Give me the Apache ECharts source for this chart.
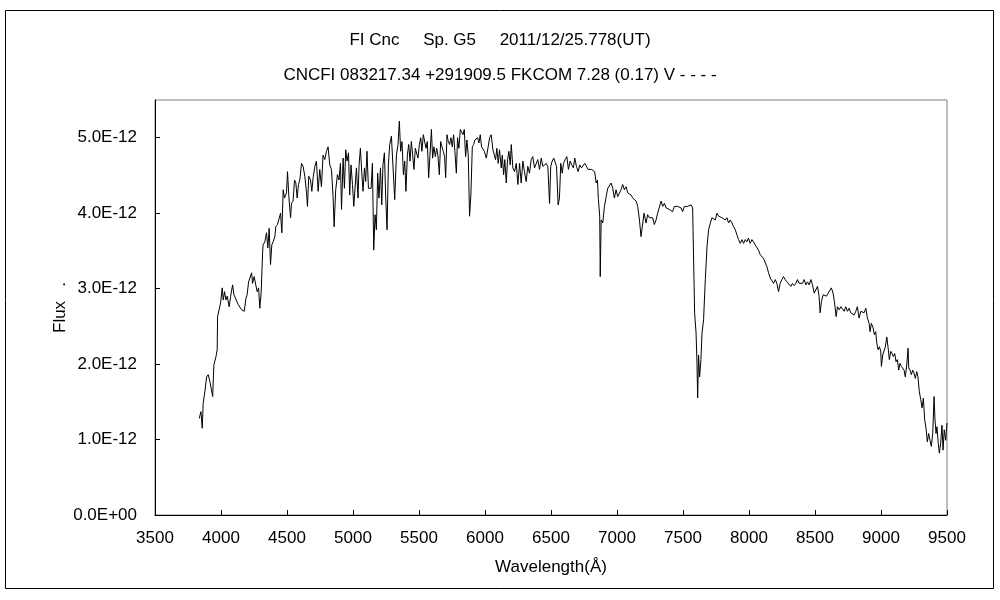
<!DOCTYPE html>
<html>
<head>
<meta charset="utf-8">
<script src="https://cdn.jsdelivr.net/npm/echarts@6/dist/echarts.min.js"></script>
<style>
html,body{margin:0;padding:0;background:#fff;}
#chart{width:1000px;height:600px;}
</style>
</head>
<body>
<div id="chart"></div>
<script>
const titleLine1 = 'FI Cnc     Sp. G5     2011/12/25.778(UT)';
const titleLine2 = 'CNCFI 083217.34 +291909.5 FKCOM 7.28 (0.17) V - - - -';
const xAxisName = 'Wavelength(Å)';
const yAxisName = 'Flux   .';
const xTicks = [3500, 4000, 4500, 5000, 5500, 6000, 6500, 7000, 7500, 8000, 8500, 9000, 9500];
const yTicksE12 = [0, 1, 2, 3, 4, 5];

// wavelength in Å
const wavelength = [
3835,3848,3858,3865,3878,3891,3903,3916,3929,3937,
3946,3962,3971,3974,3987,3997,4009,4017,4027,4037,
4047,4062,4073,4088,4098,4113,4130,4143,4156,4168,
4176,4189,4198,4209,4219,4232,4239,4251,4264,4274,
4285,4294,4304,4315,4319,4332,4345,4355,4365,4375,
4385,4395,4408,4415,4428,4440,4451,4461,4471,4481,
4496,4504,4514,4527,4534,4546,4557,4567,4577,4587,
4597,4610,4622,4635,4648,4655,4665,4678,4688,4698,
4711,4723,4736,4748,4761,4773,4786,4799,4811,4824,
4837,4849,4857,4869,4882,4894,4905,4913,4925,4935,
4945,4955,4966,4975,4985,4996,5006,5015,5026,5038,
5046,5056,5066,5076,5087,5096,5106,5117,5127,5137,
5147,5157,5167,5177,5187,5197,5208,5218,5227,5238,
5248,5258,5268,5278,5291,5303,5316,5329,5341,5351,
5361,5371,5382,5392,5401,5412,5422,5432,5442,5452,
5462,5472,5482,5492,5503,5513,5522,5533,5543,5553,
5563,5573,5583,5594,5603,5613,5624,5634,5643,5654,
5664,5674,5684,5694,5702,5712,5722,5732,5742,5752,
5762,5772,5783,5792,5802,5813,5823,5833,5843,5853,
5863,5873,5883,5893,5904,5914,5923,5934,5944,5954,
5964,5974,5984,5995,6010,6022,6035,6047,6060,6065,
6080,6090,6100,6110,6123,6131,6141,6150,6161,6171,
6181,6191,6199,6211,6224,6237,6249,6262,6274,6287,
6299,6312,6324,6337,6350,6362,6375,6388,6400,6413,
6426,6438,6451,6464,6476,6489,6498,6509,6521,6532,
6542,6554,6564,6574,6585,6595,6607,6620,6632,6645,
6657,6670,6680,6693,6706,6718,6731,6744,6756,6769,
6781,6794,6806,6819,6831,6842,6852,6859,6869,6873,
6880,6892,6905,6918,6930,6943,6955,6968,6980,6993,
7005,7018,7031,7043,7056,7069,7081,7094,7107,7119,
7132,7145,7157,7170,7182,7195,7205,7220,7232,7245,
7258,7270,7283,7296,7308,7321,7334,7346,7359,7372,
7384,7396,7409,7421,7434,7447,7459,7472,7485,7497,
7510,7523,7535,7548,7561,7573,7583,7588,7599,7606,
7611,7618,7626,7636,7644,7656,7669,7682,7694,7707,
7720,7732,7745,7757,7770,7782,7795,7807,7820,7833,
7845,7858,7871,7883,7896,7909,7921,7934,7947,7959,
7972,7984,7996,8009,8022,8034,8047,8060,8072,8085,
8098,8110,8123,8136,8148,8161,8174,8186,8199,8211,
8224,8236,8249,8261,8274,8287,8299,8317,8329,8342,
8355,8367,8380,8393,8405,8418,8431,8443,8456,8469,
8481,8494,8506,8519,8531,8539,8549,8562,8575,8587,
8600,8612,8624,8637,8647,8660,8670,8683,8696,8708,
8721,8733,8746,8758,8771,8783,8796,8809,8821,8834,
8847,8859,8872,8885,8897,8910,8917,8927,8940,8950,
8960,8968,8978,8988,8998,9003,9013,9023,9033,9044,
9053,9063,9074,9084,9094,9104,9114,9124,9134,9144,
9154,9165,9175,9184,9195,9205,9210,9220,9230,9240,
9250,9260,9271,9280,9290,9301,9311,9321,9331,9341,
9351,9361,9371,9381,9392,9402,9409,9417,9424,9434,
9442,9452,9462,9470,9479,9490,9500
];

// flux in units of 1E-12
const fluxE12 = [
1.28,1.37,1.15,1.48,1.64,1.83,1.86,1.77,1.79,1.57,
1.99,2.10,2.19,2.63,2.65,2.81,3.01,2.85,2.96,2.85,
2.90,2.76,2.90,3.05,2.92,2.90,2.79,2.81,2.72,2.74,
2.70,2.87,2.92,3.09,3.14,3.21,3.07,3.16,3.18,2.96,
3.01,2.74,2.94,3.47,3.58,3.62,3.74,3.54,3.80,3.32,
3.58,3.62,3.69,3.82,3.85,3.87,4.00,3.74,4.31,4.20,
4.27,4.55,4.22,3.94,4.13,4.16,4.44,4.40,4.20,4.38,
4.44,4.66,4.62,4.49,4.27,4.09,4.49,4.44,4.29,4.47,
4.62,4.69,4.29,4.58,4.35,4.77,4.71,4.82,4.88,4.64,
4.58,4.22,3.82,4.31,4.51,4.44,4.66,4.05,4.73,4.33,
4.84,4.69,4.80,4.24,4.64,4.38,4.09,4.09,4.60,4.20,
4.64,4.86,4.55,4.29,4.60,4.42,4.82,4.33,4.31,4.33,
4.66,3.51,3.98,3.78,4.53,4.20,4.60,4.11,4.64,4.80,
4.20,3.78,4.64,4.91,5.02,5.04,4.18,4.77,4.91,5.22,
4.82,4.95,4.51,4.69,4.29,4.77,4.91,4.69,4.95,4.77,
4.58,4.86,4.86,4.73,4.91,5.00,4.82,5.04,5.06,4.86,
4.95,4.47,4.77,5.11,4.73,4.88,4.75,4.86,4.77,4.51,
4.95,4.88,4.82,4.75,4.47,5.04,4.95,4.91,5.00,4.88,
5.04,4.82,4.53,5.00,4.86,5.11,5.13,5.04,5.11,4.75,
4.97,4.77,3.96,4.24,4.88,4.91,4.97,4.95,5.00,4.93,
5.04,4.88,4.88,4.82,4.73,4.75,5.00,5.04,4.84,4.82,
4.71,4.86,4.66,4.84,4.60,4.77,4.51,4.71,4.40,4.71,
4.82,4.64,4.91,4.60,4.55,4.66,4.38,4.66,4.40,4.69,
4.55,4.42,4.62,4.53,4.71,4.75,4.60,4.58,4.71,4.58,
4.73,4.62,4.64,4.66,4.62,4.13,4.62,4.69,4.73,4.71,
4.62,4.11,4.20,4.66,4.53,4.66,4.71,4.75,4.58,4.69,
4.64,4.60,4.73,4.62,4.55,4.64,4.60,4.58,4.66,4.64,
4.58,4.60,4.58,4.60,4.55,4.40,4.44,4.18,3.96,3.16,
3.91,3.87,4.09,4.22,4.33,4.31,4.40,4.33,4.20,4.31,
4.22,4.20,4.31,4.38,4.31,4.35,4.27,4.29,4.24,4.20,
4.18,4.16,4.09,3.91,3.69,3.69,4.00,3.87,3.98,3.94,
3.96,3.94,3.85,3.91,4.00,4.02,4.16,4.09,4.13,4.07,
4.09,4.05,4.07,4.02,4.09,4.11,4.09,4.11,4.07,4.02,
4.09,4.07,4.09,4.07,4.11,4.07,4.09,2.68,2.41,2.01,
1.55,2.12,1.83,2.06,2.41,2.59,3.12,3.56,3.78,3.87,
3.94,3.96,3.91,4.00,3.96,3.98,3.94,3.96,3.91,3.94,
3.87,3.91,3.87,3.82,3.78,3.71,3.65,3.60,3.65,3.60,
3.65,3.62,3.67,3.60,3.65,3.62,3.58,3.56,3.51,3.45,
3.43,3.40,3.38,3.29,3.21,3.14,3.12,3.07,3.12,3.07,
2.96,3.07,3.12,3.16,3.12,3.09,3.07,3.03,3.07,3.04,
3.07,3.12,3.07,3.09,3.07,3.12,3.05,3.09,3.05,3.12,
3.05,2.94,2.96,3.03,2.90,2.68,2.83,2.92,2.94,2.90,
2.94,2.92,3.01,2.94,2.83,2.63,2.76,2.72,2.76,2.74,
2.70,2.76,2.70,2.74,2.68,2.70,2.65,2.70,2.76,2.61,
2.70,2.72,2.68,2.74,2.61,2.54,2.43,2.54,2.48,2.39,
2.43,2.28,2.19,2.23,2.17,1.97,2.12,2.10,2.23,2.36,
2.23,2.06,2.17,2.14,2.10,2.14,2.03,2.06,1.92,2.01,
1.97,1.99,1.92,1.83,1.99,2.21,1.95,1.92,1.86,1.92,
1.88,1.81,1.90,1.83,1.64,1.53,1.42,1.55,1.26,1.15,
0.97,1.08,0.99,0.91,1.08,1.57,1.26,1.08,1.17,0.95,
0.82,0.95,1.19,0.86,1.13,0.99,1.22
];

const n = Math.min(wavelength.length, fluxE12.length);
const seriesData = [];
for (let i = 0; i < n; i++) seriesData.push([wavelength[i], fluxE12[i]]);

const FONT = "'Liberation Sans', Arial, sans-serif";
const chart = echarts.init(document.getElementById('chart'), null, {renderer: 'canvas'});

chart.setOption({
  animation: false,
  backgroundColor: '#fff',
  title: [
    {text: titleLine1, left: 'center', top: 27,
     textStyle: {fontFamily: FONT, fontSize: 17, fontWeight: 'normal', color: '#000'}},
    {text: titleLine2, left: 'center', top: 62,
     textStyle: {fontFamily: FONT, fontSize: 17, fontWeight: 'normal', color: '#000'}}
  ],
  graphic: [
    {type: 'rect', shape: {x: 5.5, y: 10.5, width: 988, height: 578},
     style: {fill: 'none', stroke: '#000', lineWidth: 1}, silent: true}
  ],
  grid: {left: 155, right: 53, top: 100, bottom: 85, show: true,
         borderColor: '#808080', borderWidth: 1, backgroundColor: 'transparent'},
  xAxis: {
    type: 'value', min: xTicks[0], max: xTicks[xTicks.length - 1], interval: 500,
    name: xAxisName, nameLocation: 'middle', nameGap: 44, nameMoveOverlap: false,
    nameTextStyle: {fontFamily: FONT, fontSize: 17, color: '#000'},
    axisLine: {show: true, onZero: false, lineStyle: {color: '#000', width: 1}},
    axisTick: {show: true, inside: true, length: 5, lineStyle: {color: '#000'},
               customValues: xTicks},
    axisLabel: {fontFamily: FONT, fontSize: 17, color: '#000', margin: 15,
      customValues: xTicks, formatter: v => String(v)},
    splitLine: {show: false}
  },
  yAxis: {
    type: 'value', min: 0, max: 5.5, interval: 1,
    name: yAxisName, nameLocation: 'middle', nameGap: 86, nameRotate: 90,
    nameMoveOverlap: false,
    nameTextStyle: {fontFamily: FONT, fontSize: 17, color: '#000'},
    axisLine: {show: true, onZero: false, lineStyle: {color: '#000', width: 1}},
    axisTick: {show: true, inside: true, length: 5, lineStyle: {color: '#000'},
               customValues: yTicksE12},
    axisLabel: {fontFamily: FONT, fontSize: 17, color: '#000', margin: 18,
      customValues: yTicksE12,
      formatter: function (v) {
        const r = Math.round(v);
        return r === 0 ? '0.0E+00' : r.toFixed(1) + 'E-12';
      }},
    splitLine: {show: false}
  },
  series: [{
    type: 'line', data: seriesData, showSymbol: false, symbol: 'none',
    lineStyle: {color: '#000', width: 1}, clip: true
  }]
});
</script>
</body>
</html>
